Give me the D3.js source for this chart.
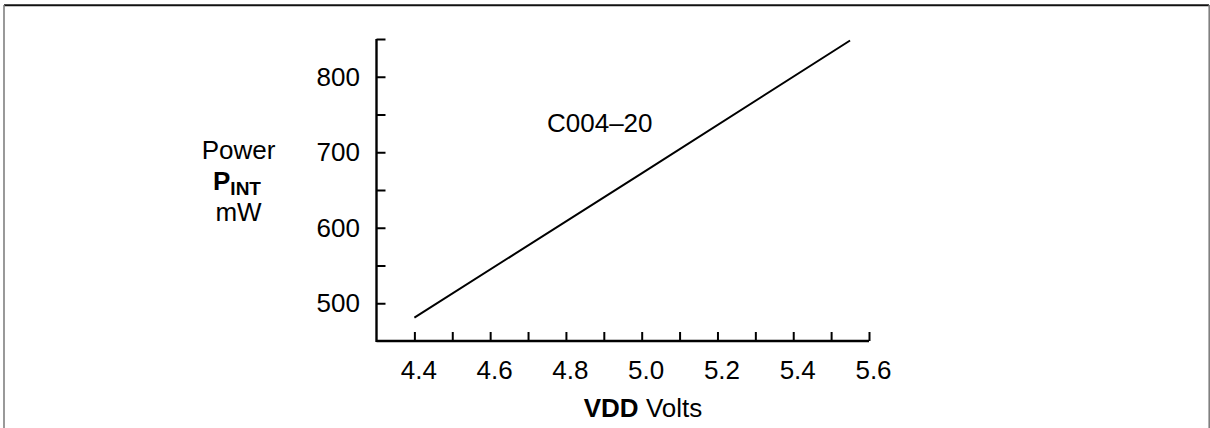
<!DOCTYPE html>
<html>
<head>
<meta charset="utf-8">
<script src="https://cdn.jsdelivr.net/npm/d3@7"></script>
<style>
  body { margin: 0; background: #fff; }
  svg text { font-family: "Liberation Sans", Arial, sans-serif; fill: #000; }
</style>
</head>
<body>
<div id="chart"></div>
<script>
'use strict';

// data (C004-20)
var voltage = [4.4, 5.0, 5.55];
var power   = [481, 672, 848];

var xTicks = [4.4, 4.5, 4.6, 4.7, 4.8, 4.9, 5.0, 5.1, 5.2, 5.3, 5.4, 5.5, 5.6];
var xLabels = [4.4, 4.6, 4.8, 5.0, 5.2, 5.4, 5.6];
var yTicks = [500, 550, 600, 650, 700, 750, 800, 850];
var yLabels = [500, 600, 700, 800];

var width = 1210, height = 428;

var svg = d3.select('#chart').append('svg')
  .attr('width', width)
  .attr('height', height);

// outer frame (no bottom edge in the reference)
svg.append('line').attr('x1', 4).attr('y1', 5.2).attr('x2', 1209).attr('y2', 5.2)
  .attr('stroke', '#111').attr('stroke-width', 2);
svg.append('line').attr('x1', 4).attr('y1', 5).attr('x2', 4).attr('y2', height)
  .attr('stroke', '#808080').attr('stroke-width', 1.6);
svg.append('line').attr('x1', 1209.2).attr('y1', 5).attr('x2', 1209.2).attr('y2', height)
  .attr('stroke', '#808080').attr('stroke-width', 1.6);

var x = d3.scaleLinear().domain([4.3, 5.6]).range([376.5, 869]);
var y = d3.scaleLinear().domain([450, 850]).range([341, 39]);

var fmtX = function(d){
  return xLabels.some(function(v){ return Math.abs(v - d) < 1e-6; }) ? d.toFixed(1) : '';
};
var fmtY = function(d){ return yLabels.indexOf(d) >= 0 ? d : ''; };

// x axis
var gx = svg.append('g')
  .attr('transform', 'translate(0,' + y(450) + ')')
  .call(d3.axisBottom(x).tickValues(xTicks).tickFormat(fmtX)
    .tickSize(-9).tickSizeOuter(0).tickPadding(20));
gx.select('.domain')
  .attr('d', 'M' + x(4.3) + ',0H' + x(5.6))
  .attr('stroke', '#000').attr('stroke-width', 2.4);
gx.selectAll('.tick line').attr('stroke', '#000').attr('stroke-width', 2);
gx.selectAll('.tick text')
  .attr('font-size', 26).attr('dx', 4)
  .style('font-family', '"Liberation Sans", Arial, sans-serif');

// y axis
var gy = svg.append('g')
  .attr('transform', 'translate(' + x(4.3) + ',0)')
  .call(d3.axisLeft(y).tickValues(yTicks).tickFormat(fmtY)
    .tickSize(-9).tickSizeOuter(0).tickPadding(16.5));
gy.select('.domain')
  .attr('d', 'M0,' + y(850) + 'V' + (y(450) + 1))
  .attr('stroke', '#000').attr('stroke-width', 2.4);
gy.selectAll('.tick line').attr('stroke', '#000').attr('stroke-width', 2);
gy.selectAll('.tick text')
  .attr('font-size', 26)
  .style('font-family', '"Liberation Sans", Arial, sans-serif');

// the curve
var pts = voltage.map(function(v, i){ return [v, power[i]]; });
svg.append('path')
  .datum(pts)
  .attr('fill', 'none')
  .attr('stroke', '#000')
  .attr('stroke-width', 2)
  .attr('d', d3.line().x(function(d){ return x(d[0]); }).y(function(d){ return y(d[1]); }));

// curve label
svg.append('text')
  .attr('x', 547).attr('y', 131.5)
  .attr('font-size', 26)
  .text('C004\u201320');

// y title
var yt = svg.append('g').attr('text-anchor', 'middle');
yt.append('text').attr('x', 238.5).attr('y', 159).attr('font-size', 26).text('Power');
var pint = yt.append('text').attr('x', 237).attr('y', 190).attr('font-size', 26)
  .attr('font-weight', 'bold');
pint.append('tspan').text('P');
pint.append('tspan').attr('font-size', 19).attr('dy', 5).text('INT');
yt.append('text').attr('x', 238.5).attr('y', 221).attr('font-size', 26).text('mW');

// x title
var xt = svg.append('text')
  .attr('x', 643).attr('y', 417)
  .attr('text-anchor', 'middle')
  .attr('font-size', 26);
xt.append('tspan').attr('font-weight', 'bold').text('VDD');
xt.append('tspan').text(' Volts');
</script>
</body>
</html>
